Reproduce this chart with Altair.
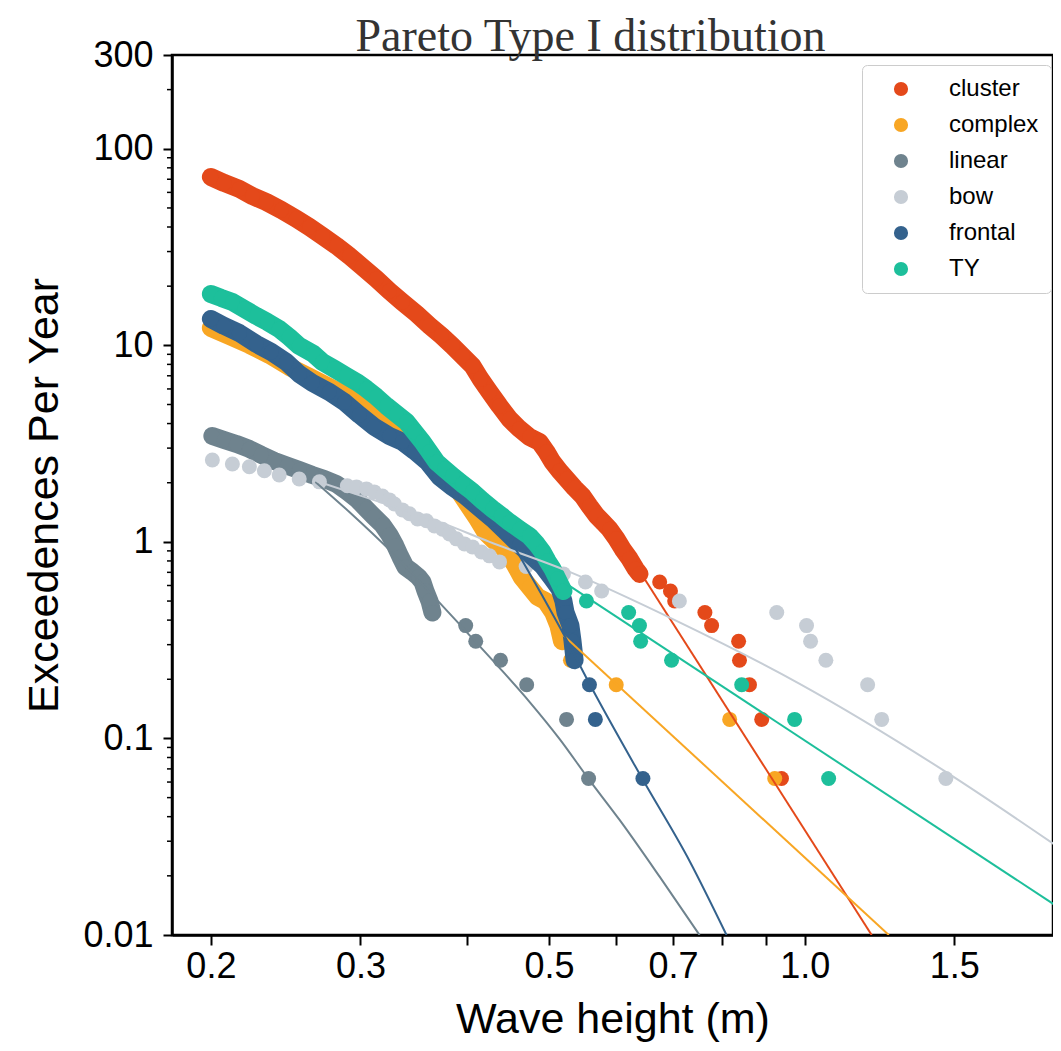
import altair as alt
import pandas as pd

series = ["cluster", "complex", "linear", "bow", "frontal", "TY"]
colors = ["#E4491A", "#F8A624", "#6F838E", "#C6CDD5", "#34628D", "#1DBF9B"]

# ---- observed exceedance points (wave height m, exceedances per year)
cluster_x = [0.2, 0.2073, 0.216, 0.2238, 0.2324, 0.2421, 0.2521, 0.2612, 0.2706, 0.2811, 0.2911,
             0.3015, 0.3132, 0.3245, 0.3361, 0.3491, 0.3617, 0.3736, 0.3849, 0.3955, 0.4064,
             0.4153, 0.4256, 0.4373, 0.4493, 0.4616, 0.4743, 0.4874, 0.4967, 0.5048, 0.5145,
             0.5244, 0.5359, 0.5477, 0.5581, 0.5689, 0.5799, 0.5893, 0.6, 0.6104, 0.6222,
             0.6324, 0.639, 0.675, 0.695, 0.703, 0.763, 0.777, 0.836, 0.838, 0.861, 0.890, 0.939]
cluster_y = [71.9, 67.0, 62.5, 57.5, 53.6, 48.8, 44.0, 40.0, 36.0, 32.1, 28.5,
             25.1, 21.8, 18.9, 16.6, 14.5, 12.6, 11.2, 9.93, 8.83, 7.86,
             6.75, 5.79, 4.92, 4.22, 3.76, 3.42, 3.22, 2.87, 2.55, 2.30,
             2.09, 1.88, 1.71, 1.52, 1.36, 1.25, 1.16, 1.04, 0.921, 0.820,
             0.729, 0.6875, 0.625, 0.5625, 0.5, 0.4375, 0.375, 0.3125, 0.25, 0.1875, 0.125, 0.0625]

complex_x = [0.2, 0.2103, 0.222, 0.2343, 0.2473, 0.2612, 0.2757, 0.2911, 0.3074, 0.3245, 0.3381,
             0.352, 0.3636, 0.3767, 0.3902, 0.4009, 0.4118, 0.421, 0.4314, 0.4432, 0.4554,
             0.4641, 0.4743, 0.4848, 0.4953, 0.5057, 0.513, 0.518, 0.530, 0.600, 0.816, 0.922]
complex_y = [12.26, 11.16, 10.05, 8.94, 7.77, 6.91, 6.14, 5.47, 4.75, 4.13, 3.67,
             3.11, 2.64, 2.24, 1.86, 1.56, 1.31, 1.12, 1.01, 0.921, 0.773,
             0.664, 0.59, 0.525, 0.5, 0.4375, 0.375, 0.3125, 0.25, 0.1875, 0.125, 0.0625]

linear_x = [0.2008, 0.2073, 0.2143, 0.222, 0.2293, 0.2375, 0.246, 0.2541, 0.2633, 0.272, 0.2811,
            0.2895, 0.2976, 0.3049, 0.3114, 0.3184, 0.3245, 0.3298, 0.3343, 0.3389, 0.3453,
            0.351, 0.3549, 0.3578, 0.3617, 0.3646, 0.399, 0.410, 0.4385, 0.4707, 0.5244, 0.5567]
linear_y = [3.46, 3.30, 3.15, 2.97, 2.77, 2.58, 2.44, 2.32, 2.19, 2.09, 1.97,
            1.80, 1.64, 1.47, 1.34, 1.22, 1.085, 0.954, 0.839, 0.746, 0.704,
            0.664, 0.625, 0.5625, 0.5, 0.4375, 0.375, 0.3125, 0.25, 0.1875, 0.125, 0.0625]

bow_x = [0.2008, 0.212, 0.222, 0.2312, 0.2407, 0.2541, 0.2684, 0.2895, 0.2968, 0.3049, 0.3114,
         0.3184, 0.3245, 0.3289, 0.3361, 0.3426, 0.3502, 0.3587, 0.3666, 0.3747, 0.3818,
         0.3891, 0.3977, 0.4064, 0.4164, 0.4256, 0.4373, 0.47, 0.52, 0.552,
         0.5767, 0.712, 0.927, 1.005, 1.016, 1.059, 1.186, 1.232, 1.466]
bow_y = [2.61, 2.49, 2.41, 2.30, 2.19, 2.09, 2.02, 1.93, 1.905, 1.86, 1.796,
         1.71, 1.635, 1.56, 1.455, 1.39, 1.309, 1.28, 1.206, 1.16, 1.098,
         1.036, 0.977, 0.943, 0.889, 0.849, 0.791, 0.75, 0.6875, 0.625,
         0.5625, 0.5, 0.4375, 0.375, 0.3125, 0.25, 0.1875, 0.125, 0.0625]

frontal_x = [0.2, 0.2073, 0.216, 0.2262, 0.2356, 0.2454, 0.2541, 0.2633, 0.2757, 0.2872, 0.2991,
             0.3114, 0.3245, 0.3361, 0.3473, 0.3597, 0.3716, 0.3849, 0.3988, 0.4141, 0.4291,
             0.4457, 0.4616, 0.4769, 0.4913, 0.5048, 0.5145, 0.520, 0.523, 0.530, 0.533,
             0.536, 0.558, 0.567, 0.645]
frontal_y = [13.62, 12.55, 11.56, 10.17, 9.25, 8.23, 7.15, 6.44, 5.79, 5.15, 4.43,
             3.85, 3.46, 3.23, 2.90, 2.55, 2.14, 1.90, 1.71, 1.49, 1.31,
             1.12, 0.966, 0.849, 0.755, 0.648, 0.577, 0.5, 0.4375, 0.375, 0.3125,
             0.25, 0.1875, 0.125, 0.0625]

ty_x = [0.2, 0.2057, 0.212, 0.219, 0.2262, 0.2331, 0.2407, 0.2473, 0.2541, 0.2641, 0.2706,
        0.2795, 0.2887, 0.2968, 0.3049, 0.3132, 0.3219, 0.3307, 0.3399, 0.3473, 0.3549,
        0.3617, 0.3686, 0.3767, 0.3849, 0.3955, 0.4064, 0.4176, 0.4291, 0.4395, 0.4493,
        0.4616, 0.4743, 0.4834, 0.4913, 0.498, 0.5048, 0.5117, 0.52, 0.5535, 0.6205,
        0.639, 0.641, 0.697, 0.843, 0.973, 1.067]
ty_y = [18.25, 17.42, 16.63, 15.31, 14.11, 13.15, 12.12, 11.03, 9.93, 9.04, 8.23,
        7.59, 6.99, 6.51, 6.00, 5.47, 4.92, 4.48, 4.08, 3.63, 3.23,
        2.87, 2.55, 2.35, 2.17, 1.97, 1.80, 1.62, 1.47, 1.36, 1.26,
        1.16, 1.07, 0.977, 0.889, 0.80, 0.729, 0.648, 0.5625, 0.5, 0.4375,
        0.375, 0.3125, 0.25, 0.1875, 0.125, 0.0625]

# how many leading points of each series form the continuous, overlapping band
band_counts = [43, 28, 26, 0, 32, 39]

# ---- fitted curves
cluster_fit_x = [0.648, 1.199]
cluster_fit_y = [0.648, 0.01]
complex_fit_x = [0.507, 1.256]
complex_fit_y = [0.37, 0.01]
linear_fit_x = [0.2655, 0.2911, 0.3245, 0.3617, 0.3988, 0.4373, 0.4743, 0.5145, 0.5566, 0.6055, 0.6749, 0.7519]
linear_fit_y = [2.02, 1.42, 0.911, 0.557, 0.3527, 0.2286, 0.1536, 0.0995, 0.0623, 0.0385, 0.0198, 0.01]
bow_fit_x = [0.2662, 0.3158, 0.3716, 0.4256, 0.5287, 0.7104, 0.9865, 1.466, 1.986]
bow_fit_y = [2.04, 1.598, 1.264, 1.0, 0.704, 0.392, 0.1896, 0.0676, 0.0281]
frontal_fit_x = [0.4554, 0.4913, 0.5217, 0.5581, 0.645, 0.7319, 0.809]
frontal_fit_y = [0.943, 0.531, 0.332, 0.1896, 0.0616, 0.0238, 0.01]
ty_fit_x = [0.520, 1.986]
ty_fit_y = [0.626, 0.0139]

x_ticks = [0.2, 0.3, 0.4, 0.5, 0.6, 0.7, 0.8, 0.9, 1.0, 1.5]
y_ticks = [0.01, 0.1, 1, 10, 100, 300]
y_minor = [0.02, 0.03, 0.04, 0.05, 0.06, 0.07, 0.08, 0.09,
           0.2, 0.3, 0.4, 0.5, 0.6, 0.7, 0.8, 0.9,
           2, 3, 4, 5, 6, 7, 8, 9,
           20, 30, 40, 50, 60, 70, 80, 90, 200]

pt_sets = [(cluster_x, cluster_y), (complex_x, complex_y), (linear_x, linear_y),
           (bow_x, bow_y), (frontal_x, frontal_y), (ty_x, ty_y)]
fit_sets = [(cluster_fit_x, cluster_fit_y), (complex_fit_x, complex_fit_y), (linear_fit_x, linear_fit_y),
            (bow_fit_x, bow_fit_y), (frontal_fit_x, frontal_fit_y), (ty_fit_x, ty_fit_y)]

FONT = "Liberation Sans"
x_scale = alt.Scale(type="log", domain=[0.18, 1.96], nice=False)
y_scale = alt.Scale(type="log", domain=[0.01, 300], nice=False)

x_axis = alt.Axis(values=x_ticks, title="Wave height (m)",
                  labelExpr="(datum.value == 0.4 || datum.value == 0.6 || datum.value == 0.8 || datum.value == 0.9) ? '' : format(datum.value, '.1f')",
                  labelFontSize=36, titleFontSize=43, labelFont=FONT, titleFont=FONT,
                  titleFontWeight="normal", labelColor="black", titleColor="black",
                  tickSize=10, tickWidth=2, tickColor="black", domainColor="black", domainWidth=2.5,
                  labelPadding=4, titlePadding=14, grid=False, labelFlush=False, labelOverlap=False)
y_axis = alt.Axis(values=y_ticks, title="Exceedences Per Year",
                  labelExpr="datum.value == 0.01 ? '0.01' : datum.value == 0.1 ? '0.1' : format(datum.value, 'd')",
                  labelFontSize=36, titleFontSize=43, labelFont=FONT, titleFont=FONT,
                  titleFontWeight="normal", labelColor="black", titleColor="black",
                  tickSize=9, tickWidth=2, tickColor="black", domainColor="black", domainWidth=2.5,
                  labelPadding=10, titlePadding=16, grid=False, labelFlush=False, labelOverlap=False)

X = alt.X("x:Q", scale=x_scale, axis=x_axis)
Y = alt.Y("y:Q", scale=y_scale, axis=y_axis)

color_scale = alt.Scale(domain=series, range=colors)
legend = alt.Legend(title=None, orient="none", legendX=690, legendY=10,
                    labelFontSize=24, labelFont=FONT, labelColor="black",
                    symbolSize=200, symbolType="circle", symbolStrokeWidth=0,
                    padding=12, rowPadding=12, symbolOffset=15, labelOffset=36,
                    strokeColor="#cccccc", fillColor="white", cornerRadius=5)

layers = []
for i, s in enumerate(series):
    xs, ys = pt_sets[i]
    df = pd.DataFrame({"x": xs, "y": ys, "type": s})
    n = band_counts[i]
    if n > 1:
        layers.append(
            alt.Chart(df.iloc[:n]).mark_line(color=colors[i], strokeWidth=18, strokeCap="round",
                                             strokeJoin="round").encode(x=X, y=Y)
        )
    layers.append(
        alt.Chart(df).mark_circle(size=225, opacity=1).encode(
            x=X, y=Y, color=alt.Color("type:N", scale=color_scale, legend=legend))
    )

for i, s in enumerate(series):
    xs, ys = fit_sets[i]
    df = pd.DataFrame({"x": xs, "y": ys})
    layers.append(
        alt.Chart(df).mark_line(color=colors[i], strokeWidth=2, interpolate="monotone", clip=True)
        .encode(x=X, y=Y)
    )

minor_df = pd.DataFrame({"y": y_minor})
layers.append(
    alt.Chart(minor_df).mark_rule(color="black", strokeWidth=1.5).encode(
        y=Y, x=alt.value(-5), x2=alt.value(0))
)

chart = alt.layer(*layers).properties(
    width=881, height=880,
    title=alt.Title("Pareto Type I distribution", font="Liberation Serif", fontSize=46,
                    fontWeight="normal", color="#333333", anchor="middle", dx=-22, dy=55,
                    baseline="alphabetic", offset=-5),
    autosize=alt.AutoSizeParams(type="none"),
    padding={"left": 164, "top": 47, "right": 0, "bottom": 108},
    background="white",
).configure_view(stroke="black", strokeWidth=2.5)

chart.save("out.html", embed_options={"renderer": "svg", "actions": False})
